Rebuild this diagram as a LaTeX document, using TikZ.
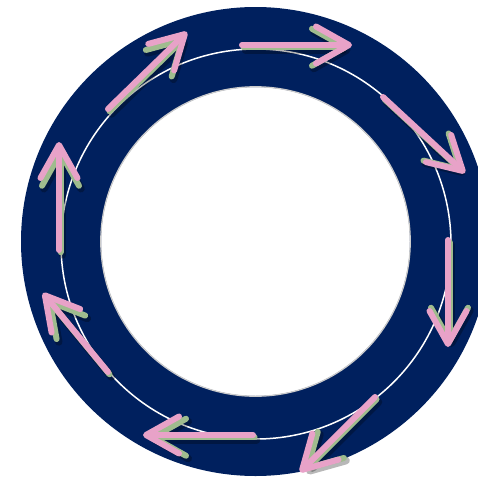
\documentclass[tikz,border=0pt]{standalone}
\usepackage{xcolor}
\usetikzlibrary{arrows.meta}

\definecolor{ring_navy}{HTML}{00205E}
\definecolor{flow_pink}{HTML}{E8A2C8}
\definecolor{flow_green}{HTML}{9FBC8E}

\begin{document}
\begin{tikzpicture}[
    ring/.style={fill=ring_navy, even odd rule},
    track/.style={draw=white, line width=0.3mm},
    hole_edge/.style={draw=black!20, line width=0.25mm},
    flow/.style={draw=flow_pink, line width=1.2mm, line cap=round,
        -{Straight Barb[length=6.6mm, width=7.4mm, round]}},
    flow_green/.style={flow, draw=flow_green, shorten >=1.1mm},
    flow_shade/.style={flow, draw=black, opacity=0.28, line width=1.5mm, shorten >=1mm},
]
    \useasboundingbox (0, 0) rectangle (95.6mm, -95.8mm);
    \clip (0, 0) rectangle (95.6mm, -95.8mm);

    \coordinate(centre) at (51.1mm, -48.3mm);
    \coordinate(track_centre) at (51.2mm, -48.8mm);

    \fill[ring] (centre) circle (46.9mm) (centre) circle (30.9mm);
    \draw[hole_edge] (centre) circle (30.95mm);
    \draw[track] (track_centre) circle (39mm);

    \coordinate(flow1_tail) at (21.6mm, -21.8mm);
    \coordinate(flow1_head) at (37.4mm, -6.4mm);
    \coordinate(flow2_tail) at (48.4mm, -9mm);
    \coordinate(flow2_head) at (70.4mm, -9mm);
    \coordinate(flow3_tail) at (76.6mm, -19.4mm);
    \coordinate(flow3_head) at (93mm, -34.6mm);
    \coordinate(flow4_tail) at (89.6mm, -48mm);
    \coordinate(flow4_head) at (89.6mm, -69.4mm);
    \coordinate(flow5_tail) at (75mm, -79.4mm);
    \coordinate(flow5_head) at (60mm, -94.4mm);
    \coordinate(flow6_tail) at (50.6mm, -87mm);
    \coordinate(flow6_head) at (28.6mm, -87mm);
    \coordinate(flow7_tail) at (21.6mm, -74.4mm);
    \coordinate(flow7_head) at (8.6mm, -58.6mm);
    \coordinate(flow8_tail) at (11.8mm, -50mm);
    \coordinate(flow8_head) at (11.8mm, -28.4mm);

    % soft shadow, green rim, pink arrow on top
    \begin{scope}[transform canvas={shift={(0.7mm,-1mm)}}]
        \foreach \n in {1,...,8}
            \draw[flow_shade] (flow\n_tail) -- (flow\n_head);
    \end{scope}
    \begin{scope}[transform canvas={shift={(0.3mm,-0.45mm)}}]
        \foreach \n in {1,...,8}
            \draw[flow_green] (flow\n_tail) -- (flow\n_head);
    \end{scope}
    \foreach \n in {1,...,8}
        \draw[flow] (flow\n_tail) -- (flow\n_head);
\end{tikzpicture}
\end{document}
